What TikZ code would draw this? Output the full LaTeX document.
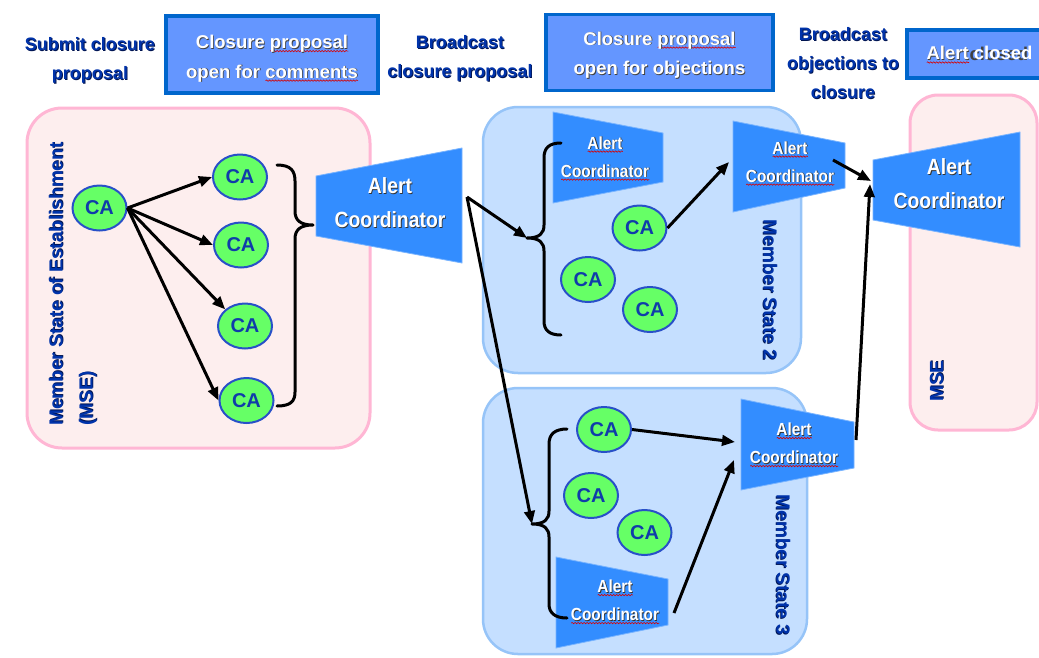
\documentclass[tikz,border=0pt]{standalone}
\usepackage{fontspec}
\setmainfont{Liberation Sans}
\newfontfamily\narrowfont[FakeStretch=0.88]{Liberation Sans}
\usetikzlibrary{arrows.meta,shapes.geometric,decorations.pathmorphing}

\definecolor{labelblue}{RGB}{0,51,170}
\definecolor{navyshadow}{RGB}{0,20,80}
\definecolor{boxfill}{RGB}{100,150,255}
\definecolor{boxline}{RGB}{0,102,204}
\definecolor{pinkfill}{RGB}{253,238,238}
\definecolor{pinkline}{RGB}{255,182,212}
\definecolor{bluefill}{RGB}{197,223,255}
\definecolor{blueline}{RGB}{150,196,248}
\definecolor{acfill}{RGB}{51,141,255}
\definecolor{acedge}{RGB}{120,180,255}
\definecolor{cafill}{RGB}{102,255,102}
\definecolor{caline}{RGB}{40,80,200}
\definecolor{catext}{RGB}{16,60,170}
\colorlet{shadowc}{black}

% text with a small drop shadow
\newcommand\shd[1]{\makebox[0pt][l]{\kern.8pt\raisebox{-.8pt}{\color{shadowc}#1}}#1}
% word with a red wavy underline
\newlength\sqwd
\newcommand\sqw[1]{\settowidth\sqwd{#1}%
  \rlap{\raisebox{-2.5pt}{\tikz[baseline=0pt]\draw[squig](0pt,0pt)--(\sqwd,0pt);}}\shd{#1}}

\begin{document}
\begin{tikzpicture}[x=1pt,y=-1pt,
  mseregion/.style={draw=pinkline, fill=pinkfill, line width=3pt, rounded corners=35pt},
  msregion/.style={draw=blueline, fill=bluefill, line width=2.5pt, rounded corners=35pt},
  stagebox/.style={draw=boxline, fill=boxfill, line width=3.5pt, inner sep=0pt},
  stagetext/.style={text=white, align=center, inner sep=0pt,
    font=\colorlet{shadowc}{black!75}\bfseries\fontsize{18.5}{29.5}\selectfont},
  stagelabel/.style={text=labelblue, align=center,
    font=\colorlet{shadowc}{navyshadow}\bfseries\fontsize{18}{29}\selectfont},
  ca/.style={ellipse, draw=caline, fill=cafill, line width=2pt, minimum width=54pt, minimum height=45pt,
    inner sep=0pt, text=catext, font=\bfseries\fontsize{20}{20}\selectfont},
  acshape/.style={fill=acfill, draw=acedge, line width=0.8pt},
  actext/.style={text=white, align=center,
    font=\colorlet{shadowc}{black!80}\narrowfont\bfseries\fontsize{22}{34}\selectfont},
  acsmall/.style={text=white, align=center,
    font=\colorlet{shadowc}{black!80}\narrowfont\bfseries\fontsize{17.5}{28}\selectfont},
  statelabel/.style={text=labelblue,
    font=\colorlet{shadowc}{navyshadow}\bfseries\fontsize{19}{30}\selectfont},
  arr/.style={line width=3pt, -{Triangle[length=13pt,width=10.5pt]}},
  bracepath/.style={line width=3pt, line cap=round, line join=round},
  squig/.style={red!85!black, line width=0.6pt, decorate, decoration={snake, amplitude=0.7pt, segment length=3pt}}
]
\clip (0,0) rectangle (1039,657);
\fill[white] (0,0) rectangle (1039,657);

% ---------- stage header ----------
\node[stagelabel] (lab1) at (90,61) {\shd{Submit closure}\\\shd{proposal}};
\node[stagebox, minimum width=212pt, minimum height=77pt] (box1) at (272,54.5) {};
\node[stagetext] (box1text) at (272,59)
  {\shd{Closure }\sqw{proposal}\\\shd{open for }\sqw{comments}};
\node[stagelabel] (lab2) at (460,59) {\shd{Broadcast}\\\shd{closure proposal}};
\node[stagebox, minimum width=227pt, minimum height=76pt] (box2) at (659.5,52.5) {};
\node[stagetext] (box2text) at (659.5,55.5)
  {\shd{Closure }\sqw{proposal}\\\shd{open for objections}};
\node[stagelabel] (lab3) at (843,63.5) {\shd{Broadcast}\\\shd{objections to}\\\shd{closure}};
\node[stagebox, minimum width=143pt, minimum height=48pt] (box3) at (978.5,54) {};
\node[stagetext] (box3text) at (979.5,55) {\sqw{Alert}\shd{ closed}};

% ---------- regions ----------
\node[mseregion, minimum width=343pt, minimum height=340pt] (mse) at (198.5,278) {};
\node[msregion, minimum width=318pt, minimum height=266pt] (ms2) at (642,240) {};
\node[msregion, minimum width=324pt, minimum height=266pt] (ms3) at (645,521) {};
\node[mseregion, rounded corners=28pt, minimum width=127pt, minimum height=335pt] (mse2) at (973.5,262.5) {};

\node[statelabel, rotate=90, align=left] (mselabel) at (73,284)
  {\shd{Member State of Establishment}\\\shd{(MSE)}};
\node[statelabel, rotate=-90] (ms2label) at (770,290) {\shd{Member State 2}};
\node[statelabel, rotate=-90] (ms3label) at (783,565) {\shd{Member State 3}};
\node[statelabel, rotate=90] (mse2label) at (937,381) {\shd{MSE}};

% ---------- alert coordinators ----------
\filldraw[acshape] (316,176) -- (462,148) -- (462,263) -- (316,236) -- cycle;
\node[actext] (acm) at (390,203) {\shd{Alert}\\\shd{Coordinator}};

\filldraw[acshape] (553,112) -- (663,133) -- (663,182) -- (553,203) -- cycle;
\node[acsmall] (ac2a) at (605,158.5) {\sqw{Alert}\\\sqw{Coordinator}};

\filldraw[acshape] (733,121) -- (845,143) -- (845,188) -- (733,212) -- cycle;
\node[acsmall] (ac2b) at (790,163.5) {\sqw{Alert}\\\sqw{Coordinator}};

\filldraw[acshape] (556,557) -- (668,579) -- (668,625) -- (556,648) -- cycle;
\node[acsmall] (ac3a) at (615,602) {\sqw{Alert}\\\sqw{Coordinator}};

\filldraw[acshape] (741,399) -- (854,422) -- (854,468) -- (741,490) -- cycle;
\node[acsmall] (ac3b) at (794,445) {\sqw{Alert}\\\sqw{Coordinator}};

\filldraw[acshape] (873,160) -- (1020,132) -- (1020,247) -- (873,220) -- cycle;
\node[actext] (acr) at (949,184) {\shd{Alert}\\\shd{Coordinator}};

% ---------- certificate authorities ----------
\node[ca] (ca1) at (99.5,208) {CA};
\node[ca] (ca2) at (240,177) {CA};
\node[ca] (ca3) at (241,245) {CA};
\node[ca] (ca4) at (245,326) {CA};
\node[ca] (ca5) at (246.5,400.5) {CA};

\node[ca] (ca6) at (639.5,228) {CA};
\node[ca] (ca7) at (588,279.5) {CA};
\node[ca] (ca8) at (650,309.5) {CA};

\node[ca] (ca9) at (604,429.5) {CA};
\node[ca] (ca10) at (591,495.5) {CA};
\node[ca] (ca11) at (644.5,532.5) {CA};

% ---------- braces ----------
\draw[bracepath] (277,165) .. controls (291,165) and (295,171) .. (295,181) -- (295,211)
  .. controls (295,220) and (300,225) .. (313,225) coordinate (b1tip)
  .. controls (300,225) and (295,230) .. (295,239) -- (295,392)
  .. controls (295,401) and (291,406) .. (277,406);
\draw[bracepath] (561,143) .. controls (549,143) and (544,148) .. (544,158) -- (544,225)
  .. controls (544,233) and (540,238) .. (527,238) coordinate (b2tip)
  .. controls (540,238) and (544,243) .. (544,251) -- (544,321)
  .. controls (544,330) and (549,335) .. (561,335);
\draw[bracepath] (567,429) .. controls (555,429) and (549,434) .. (549,444) -- (549,511)
  .. controls (549,519) and (545,524) .. (532,524) coordinate (b3tip)
  .. controls (545,524) and (549,529) .. (549,537) -- (549,604)
  .. controls (549,613) and (555,618) .. (567,618);

% ---------- connector ends ----------
\coordinate (acm-out) at (467,197);
\coordinate (ac2b-in) at (729,162);
\coordinate (ac2b-out) at (833,160);
\coordinate (ac3a-out) at (674,613);
\coordinate (ac3b-in) at (735,442);
\coordinate (ac3b-in2) at (734,460);
\coordinate (ac3b-out) at (856,440);
\coordinate (acr-in) at (871,181);
\coordinate (acr-in2) at (870,184);

% ---------- connectors ----------
\draw[arr] (ca1.east) -- (ca2.west);
\draw[arr] (ca1.east) -- (ca3.west);
\draw[arr] (ca1.east) -- (ca4.north west);
\draw[arr] (ca1.east) -- (ca5.west);

\draw[arr] (acm-out) -- (b2tip);
\draw[arr] (acm-out) -- (b3tip);

\draw[arr] (ca6.east) -- (ac2b-in);
\draw[arr] (ca9.east) -- (ac3b-in);
\draw[arr] (ac3a-out) -- (ac3b-in2);

\draw[arr] (ac2b-out) -- (acr-in);
\draw[arr] (ac3b-out) -- (acr-in2);
\end{tikzpicture}
\end{document}
